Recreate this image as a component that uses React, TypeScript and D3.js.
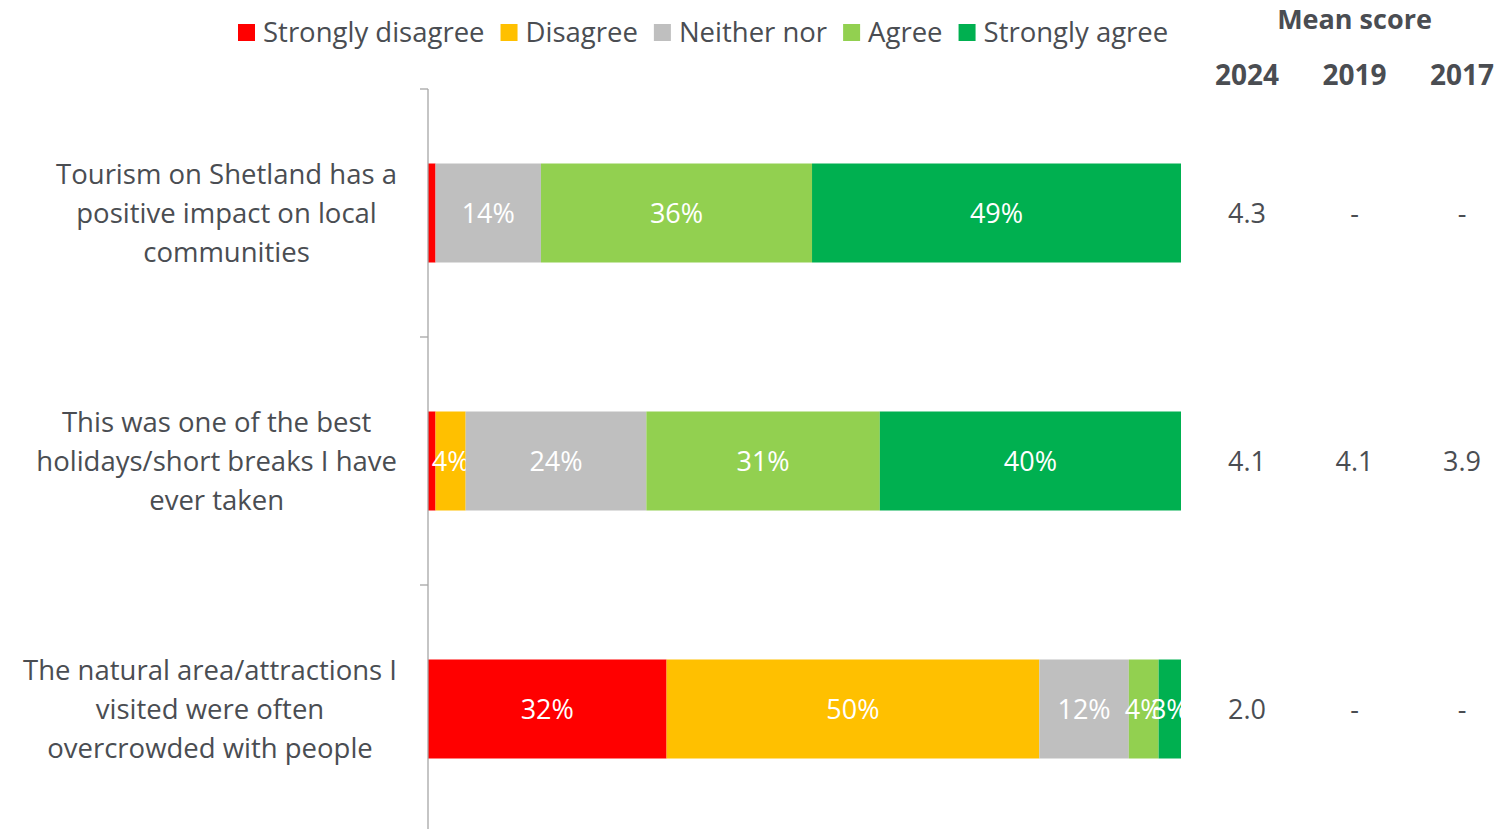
import { useEffect, useRef } from "react"
import * as d3 from "d3"

const statements = [
  "Tourism on Shetland has a|positive impact on local|communities",
  "This was one of the best|holidays/short breaks I have|ever taken",
  "The natural area/attractions I|visited were often|overcrowded with people",
]
const levels = ["Strongly disagree", "Disagree", "Neither nor", "Agree", "Strongly agree"]
const levelColors = ["#FF0000", "#FFC000", "#BFBFBF", "#92D050", "#00B050"]
const stronglyDisagree = [1, 1, 32]
const disagree = [0, 4, 50]
const neither = [14, 24, 12]
const agree = [36, 31, 4]
const stronglyAgree = [49, 40, 3]
const years = ["2024", "2019", "2017"]
const mean2024 = ["4.3", "4.1", "2.0"]
const mean2019 = ["-", "4.1", "-"]
const mean2017 = ["-", "3.9", "-"]

const W = 1509
const H = 829
const FONT = "'Open Sans', 'Noto Sans', sans-serif"
const TEXT = "#4A4D52"

export default function App() {
  const svgRef = useRef<SVGSVGElement>(null)

  useEffect(() => {
    document.body.style.margin = "0"
    if (!svgRef.current) return
    const svg = d3.select(svgRef.current)
    svg.selectAll("*").remove()
    svg.attr("width", W).attr("height", H).style("font-family", FONT)

    const margin = { top: 89, left: 428, right: 328, bottom: -4 }
    const innerW = W - margin.left - margin.right
    const innerH = H - margin.top - margin.bottom

    const series = [stronglyDisagree, disagree, neither, agree, stronglyAgree]
    const rows = statements.map((s, i) => {
      const r: any = { name: s }
      levels.forEach((l, j) => (r[l] = series[j][i]))
      return r
    })
    // 100% stacked: each row fills the full width
    const stacked = d3.stack<any>().keys(levels).offset(d3.stackOffsetExpand)(rows)

    const y = d3.scaleBand().domain(statements).range([0, innerH])
    const x = d3.scaleLinear().domain([0, 1]).range([0, innerW])
    const barH = 99

    const g = svg.append("g").attr("transform", `translate(${margin.left},${margin.top})`)

    // bars
    stacked.forEach((layer, li) => {
      const lg = g.append("g")
      layer.forEach((d, i) => {
        const key = statements[i]
        const y0 = (y(key) || 0) + y.bandwidth() / 2 - barH / 2
        const w = x(d[1]) - x(d[0])
        if (w <= 0) return
        lg.append("rect")
          .attr("x", x(d[0]))
          .attr("y", y0)
          .attr("width", w)
          .attr("height", barH)
          .attr("fill", levelColors[li])
        const v = series[li][i]
        if (v >= 2) {
          lg.append("text")
            .attr("x", x(d[0]) + w / 2)
            .attr("y", y0 + barH / 2)
            .attr("dy", "0.36em")
            .attr("text-anchor", "middle")
            .attr("fill", "#fff")
            .attr("font-size", 27)
            .text(`${v}%`)
        }
      })
    })

    // axis
    const ax = g.append("g").call(d3.axisLeft(y).tickSize(0).tickFormat(() => "") as any)
    ax.selectAll(".tick").remove()
    const edges = [...statements.map((s) => y(s) || 0), innerH]
    edges.forEach((e) => {
      ax.append("line").attr("x1", -8).attr("x2", 0).attr("y1", e).attr("y2", e).attr("stroke", "#A6A6A6").attr("stroke-width", 1.3)
    })
    ax.select(".domain").attr("stroke", "#A6A6A6").attr("d", `M0,0V${innerH}`).attr("stroke-width", 1.3)

    // category labels
    statements.forEach((s) => {
      const lines = s.split("|")
      const cy = (y(s) || 0) + y.bandwidth() / 2
      const lh = 39
      const tg = svg.append("g")
      const texts = lines.map((ln, k) =>
        tg.append("text")
          .attr("y", margin.top + cy + (k - (lines.length - 1) / 2) * lh)
          .attr("dy", "0.36em")
          .attr("text-anchor", "middle")
          .attr("fill", TEXT)
          .attr("font-size", 27.5)
          .text(ln),
      )
      const maxW = d3.max(texts, (t) => (t.node() as SVGTextElement).getComputedTextLength()) || 0
      texts.forEach((t) => t.attr("x", 397 - maxW / 2))
    })

    // legend
    const leg = svg.append("g")
    let lx = 238
    levels.forEach((l, i) => {
      leg.append("rect").attr("x", lx).attr("y", 24).attr("width", 17).attr("height", 17).attr("fill", levelColors[i])
      const t = leg.append("text")
        .attr("x", lx + 25)
        .attr("y", 32)
        .attr("dy", "0.36em")
        .attr("fill", TEXT)
        .attr("font-size", 27.5)
        .text(l)
      lx += 25 + (t.node() as SVGTextElement).getComputedTextLength() + 16
    })

    // mean score table
    const colX = d3.scalePoint().domain(years).range([1247, 1462])
    svg.append("text")
      .attr("x", colX("2019") || 0)
      .attr("y", 19)
      .attr("dy", "0.36em")
      .attr("text-anchor", "middle")
      .attr("font-weight", "bold")
      .attr("fill", TEXT)
      .attr("font-size", 27)
      .text("Mean score")
    years.forEach((yr) => {
      svg.append("text")
        .attr("x", colX(yr) || 0)
        .attr("y", 75)
        .attr("dy", "0.36em")
        .attr("text-anchor", "middle")
        .attr("font-weight", "bold")
        .attr("fill", TEXT)
        .attr("font-size", 28)
        .text(yr)
    })
    const means = [mean2024, mean2019, mean2017]
    means.forEach((col, ci) => {
      col.forEach((v, ri) => {
        const s = statements[ri]
        svg.append("text")
          .attr("x", colX(years[ci]) || 0)
          .attr("y", margin.top + (y(s) || 0) + y.bandwidth() / 2)
          .attr("dy", "0.36em")
          .attr("text-anchor", "middle")
          .attr("fill", TEXT)
          .attr("font-size", 27)
          .text(v)
      })
    })
  }, [])

  return <svg ref={svgRef} style={{ display: "block" }} />
}
